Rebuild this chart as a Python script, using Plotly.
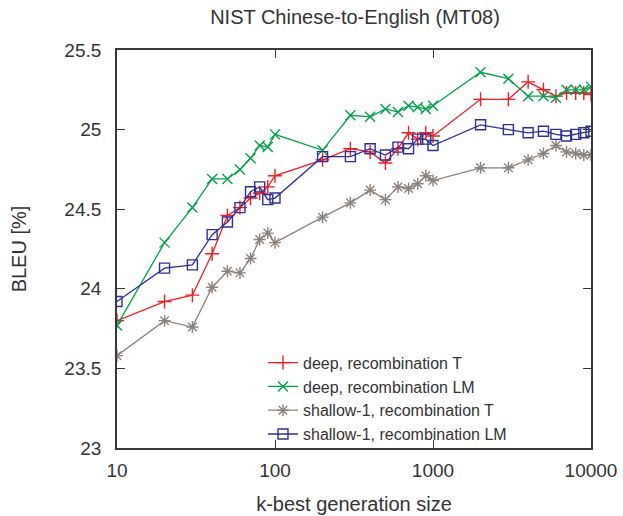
import plotly.graph_objects as go

k_sizes = [10, 20, 30, 40, 50, 60, 70, 80, 90, 100,
           200, 300, 400, 500, 600, 700, 800, 900, 1000,
           2000, 3000, 4000, 5000, 6000, 7000, 8000, 9000, 10000]

deep_T = [23.80, 23.92, 23.96, 24.22, 24.46, 24.51, 24.57, 24.60, 24.64, 24.71,
          24.81, 24.88, 24.86, 24.79, 24.88, 24.98, 24.94, 24.98, 24.96,
          25.19, 25.19, 25.30, 25.25, 25.21, 25.23, 25.23, 25.23, 25.22]
deep_LM = [23.77, 24.29, 24.51, 24.69, 24.69, 24.75, 24.82, 24.90, 24.89, 24.97,
           24.87, 25.09, 25.08, 25.13, 25.11, 25.15, 25.14, 25.13, 25.15,
           25.36, 25.32, 25.21, 25.21, 25.20, 25.25, 25.25, 25.25, 25.27]
shallow_T = [23.58, 23.80, 23.76, 24.01, 24.11, 24.10, 24.19, 24.31, 24.35, 24.29,
             24.45, 24.54, 24.62, 24.56, 24.64, 24.63, 24.66, 24.71, 24.68,
             24.76, 24.76, 24.81, 24.85, 24.90, 24.86, 24.85, 24.84, 24.84]
shallow_LM = [23.92, 24.13, 24.15, 24.34, 24.42, 24.51, 24.61, 24.64, 24.56, 24.57,
              24.83, 24.83, 24.88, 24.84, 24.89, 24.88, 24.94, 24.94, 24.90,
              25.03, 25.00, 24.98, 24.99, 24.97, 24.96, 24.97, 24.98, 24.99]

series_names = ["deep, recombination T", "deep, recombination LM",
                "shallow-1, recombination T", "shallow-1, recombination LM"]
x_tick_vals = [10, 100, 1000, 10000]
x_tick_text = ["10", "100", "1000", "10000"]
y_tick_vals = [23, 23.5, 24, 24.5, 25, 25.5]
y_tick_text = ["23", "23.5", "24", "24.5", "25", "25.5"]

styles = [
    dict(color="#ee1c25", symbol="cross-thin-open", size=10),
    dict(color="#00a14b", symbol="x-thin-open", size=10),
    dict(color="#8c827d", symbol="asterisk-open", size=10),
    dict(color="#2e3192", symbol="square-open", size=10),
]

fig = go.Figure()
for name, ys, st in zip(series_names, [deep_T, deep_LM, shallow_T, shallow_LM], styles):
    fig.add_trace(go.Scatter(
        x=k_sizes, y=ys, name=name, mode="lines+markers",
        line=dict(color=st["color"], width=1.3),
        marker=dict(symbol=st["symbol"], size=st["size"], color=st["color"],
                    line=dict(color=st["color"], width=1.4)),
    ))

font_family = "Liberation Sans, Arial, sans-serif"
text_color = "#333333"
axis_common = dict(
    showline=True, linecolor="#383838", linewidth=1.8, mirror="ticks",
    ticks="inside", ticklen=8, tickwidth=1.2, tickcolor="#383838",
    showgrid=False, zeroline=False, automargin=False,
    tickfont=dict(family=font_family, size=19, color=text_color),
)

fig.update_layout(
    width=623, height=516,
    margin=dict(l=117, r=32, t=50, b=68),
    paper_bgcolor="white", plot_bgcolor="white",
    font=dict(family=font_family, size=19, color=text_color),
    title=dict(text="NIST Chinese-to-English (MT08)", x=355 / 623, xanchor="center",
               y=1 - 17 / 516, yanchor="middle",
               font=dict(family=font_family, size=20, color=text_color)),
    xaxis=dict(type="log", range=[1, 4], tickvals=x_tick_vals, ticktext=x_tick_text,
               title=dict(text="k-best generation size", standoff=17,
                          font=dict(family=font_family, size=20, color=text_color)),
               ticklabelstandoff=4, **axis_common),
    yaxis=dict(range=[23, 25.5], tickvals=y_tick_vals, ticktext=y_tick_text,
               title=dict(text="BLEU [%]", standoff=32,
                          font=dict(family=font_family, size=20, color=text_color)),
               ticklabelstandoff=10, **axis_common),
    legend=dict(x=0.308, y=0.257, xanchor="left", yanchor="top",
                bgcolor="rgba(0,0,0,0)", borderwidth=0,
                font=dict(family=font_family, size=16, color=text_color),
                tracegroupgap=0, itemwidth=30),
    showlegend=True,
)

fig.write_html("out.html")
